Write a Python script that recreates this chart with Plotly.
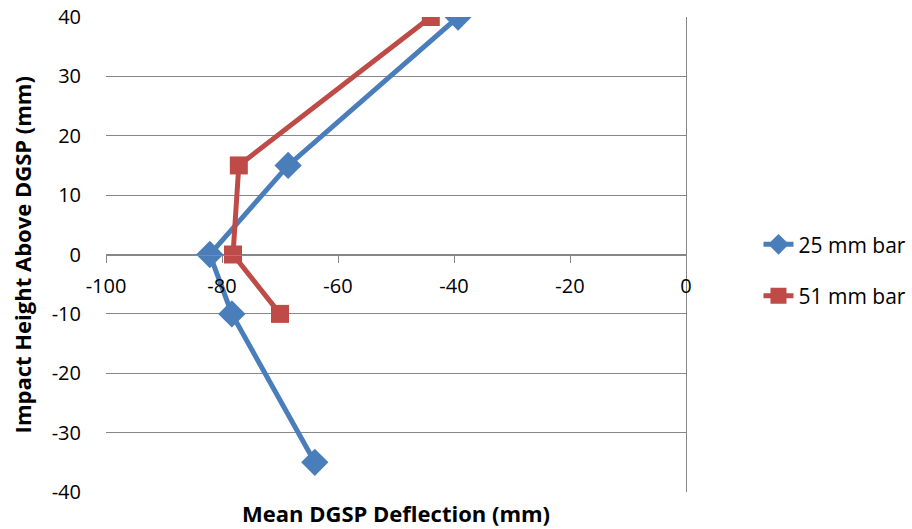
import plotly.graph_objects as go

heights_25 = [40, 15, 0, -10, -35]
deflect_25 = [-39.3, -68.6, -82.1, -78.3, -64.0]
heights_51 = [40, 15, 0, -10]
deflect_51 = [-44.0, -77.1, -78.1, -70.0]

x_ticks = [-100, -80, -60, -40, -20, 0]
y_ticks = [-40, -30, -20, -10, 0, 10, 20, 30, 40]

BLUE = "#4a7ebb"
RED = "#be4b48"
GRID = "#878787"
FONT = "Open Sans"

fig = go.Figure()
fig.add_trace(go.Scatter(
    x=deflect_25, y=heights_25, name="25 mm bar", mode="lines+markers",
    line=dict(color=BLUE, width=5),
    marker=dict(symbol="diamond", size=21, color=BLUE),
    legendgroup="a"))
fig.add_trace(go.Scatter(
    x=deflect_51, y=heights_51, name="51 mm bar", mode="lines+markers",
    line=dict(color=RED, width=5),
    marker=dict(symbol="square", size=18, color=RED),
    legendgroup="b"))

fig.update_layout(
    width=912, height=529,
    margin=dict(l=106, r=226, t=17, b=37, autoexpand=False),
    plot_bgcolor="white", paper_bgcolor="white",
    font=dict(family=FONT, size=20, color="black"),
    showlegend=True,
    legend=dict(x=1.125, y=0.467, xanchor="left", yanchor="middle",
                traceorder="grouped", tracegroupgap=21,
                font=dict(family=FONT, size=21)),
    xaxis=dict(range=[-100, 0], tickvals=x_ticks, ticktext=[str(v) for v in x_ticks],
               showgrid=False, zeroline=True, zerolinecolor=GRID, zerolinewidth=1.3,
               showline=True, linecolor=GRID, linewidth=1.3,
               anchor="free", position=0.5, automargin=False,
               ticks="outside", ticklen=7, tickcolor=GRID, tickwidth=1.3,
               ticklabelstandoff=6),
    yaxis=dict(range=[-40, 40], tickvals=y_ticks, ticktext=[str(v) for v in y_ticks],
               showgrid=True, gridcolor=GRID, gridwidth=1.3, automargin=False,
               zeroline=False, showline=False, ticks="",
               ticklabelstandoff=24),
    annotations=[
        dict(text="<b>Mean DGSP Deflection (mm)</b>", xref="paper", yref="paper",
             x=0.5, y=-0.044, xanchor="center", yanchor="middle", showarrow=False,
             font=dict(family=FONT, size=22)),
        dict(text="<b>Impact Height Above DGSP (mm)</b>", xref="paper", yref="paper",
             x=-0.145, y=0.5, xanchor="center", yanchor="middle", textangle=-90,
             showarrow=False, font=dict(family=FONT, size=22)),
    ],
)

fig.write_html("out.html")
